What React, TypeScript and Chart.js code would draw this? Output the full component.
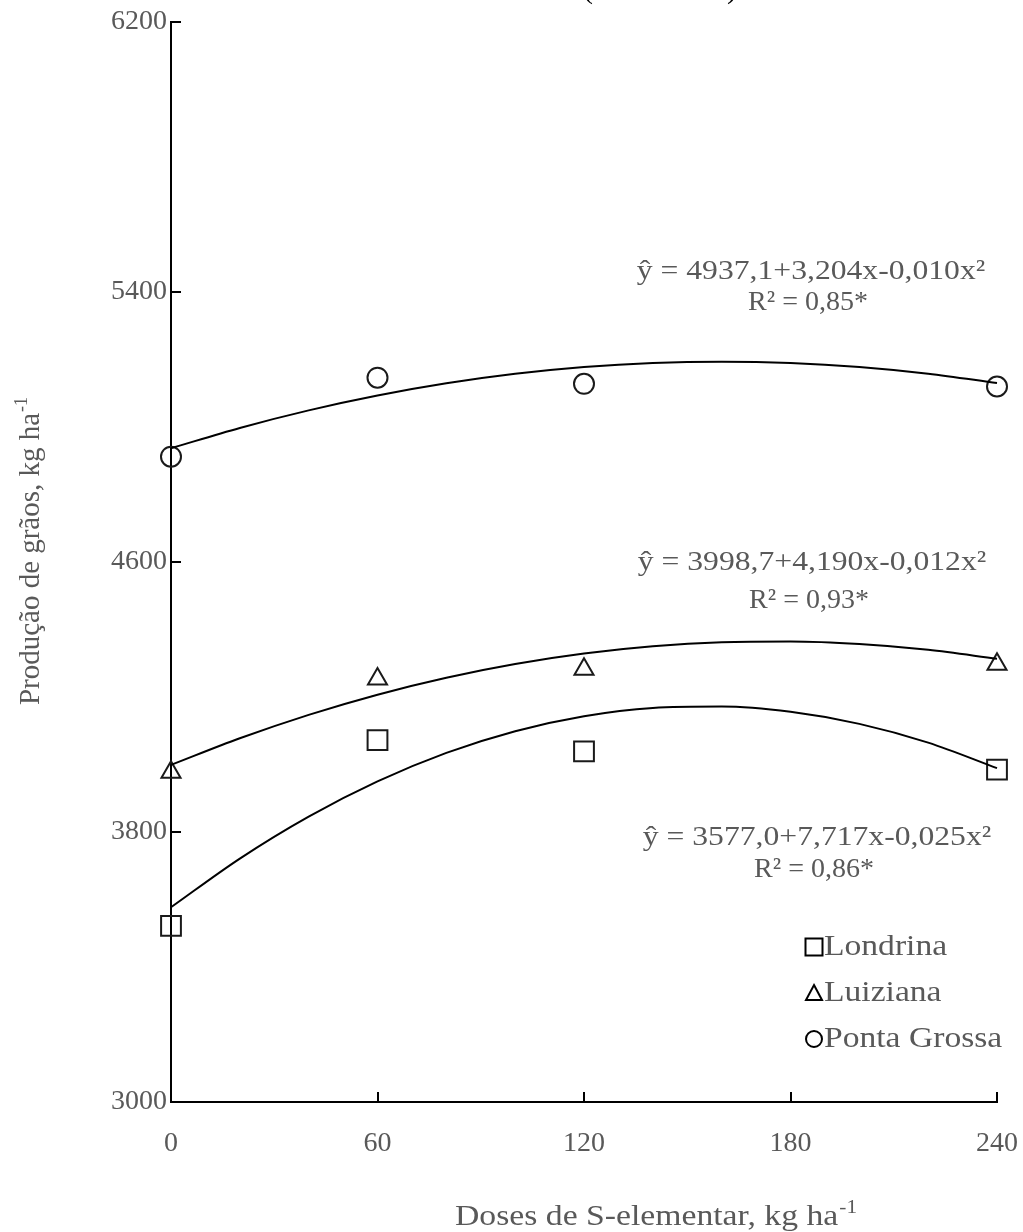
import React, { useEffect, useRef } from "react";
import { Chart, registerables } from "chart.js";

Chart.register(...registerables);

// ---- data ----
const doses = [0, 60, 120, 240];
const londrina = [3522, 4072, 4039, 3985];
const luiziana = [3977, 4253, 4282, 4297];
const pontaGrossa = [4912, 5146, 5128, 5120];

const fitDoses = [0, 20, 40, 60, 80, 100, 120, 140, 160, 180, 200, 220, 240];
const londrinaFit = [3577.0, 3721.3, 3845.7, 3950.0, 4034.4, 4098.7, 4143.0, 4167.4, 4171.7, 4156.1, 4120.4, 4064.7, 3989.1];
const luizianaFit = [3998.7, 4077.7, 4147.1, 4206.9, 4257.1, 4297.7, 4328.7, 4350.1, 4361.9, 4364.1, 4356.7, 4339.7, 4313.1];
const pontaGrossaFit = [4937.1, 4997.2, 5049.3, 5093.3, 5129.4, 5157.5, 5177.6, 5189.7, 5193.7, 5189.8, 5177.9, 5158.0, 5130.1];

const seriesLabels = ["Londrina", "Luiziana", "Ponta Grossa"];
const equations = ["ŷ = 3577,0+7,717x-0,025x²", "ŷ = 3998,7+4,190x-0,012x²", "ŷ = 4937,1+3,204x-0,010x²"];
const r2Labels = ["R² = 0,86*", "R² = 0,93*", "R² = 0,85*"];

const xTitleMain = "Doses de S-elementar, kg ha";
const yTitleMain = "Produção de grãos, kg ha";
const titleSup = "-1";

const FONT = "'Liberation Serif', 'Times New Roman', serif";
const TEXT = "#595959";
const INK = "#1a1a1a";

const pointStyles = ["rect", "triangle", "circle"] as const;
const pointRadii = [14, 11, 10];

const toXY = (xs: number[], ys: number[]) => xs.map((x, i) => ({ x, y: ys[i] }));

const eqPos = [
  { x: 817, y: 838, ry: 870 },
  { x: 812, y: 563, ry: 601 },
  { x: 811, y: 272, ry: 303 },
];

function drawStretched(ctx: CanvasRenderingContext2D, text: string, x: number, y: number, sx: number, align: "left" | "center") {
  const w = ctx.measureText(text).width * sx;
  const left = align === "center" ? x - w / 2 : x;
  ctx.save();
  ctx.translate(left, y);
  ctx.scale(sx, 1);
  ctx.textAlign = "left";
  ctx.fillText(text, 0, 0);
  ctx.restore();
}

function drawTitle(ctx: CanvasRenderingContext2D, main: string, sup: string, size: number, targetLen: number) {
  ctx.font = `${size}px ${FONT}`;
  const mw = ctx.measureText(main).width;
  ctx.font = `${Math.round(size * 0.62)}px ${FONT}`;
  const sw = ctx.measureText(sup).width;
  const k = targetLen / (mw + sw);
  ctx.save();
  ctx.scale(k, 1);
  ctx.textAlign = "left";
  ctx.textBaseline = "alphabetic";
  ctx.font = `${size}px ${FONT}`;
  ctx.fillText(main, 0, 0);
  ctx.font = `${Math.round(size * 0.62)}px ${FONT}`;
  ctx.fillText(sup, mw + 1, -size * 0.4);
  ctx.restore();
}

const tickMarks = {
  id: "tickMarks",
  afterDatasetsDraw(chart: any) {
    const { ctx, chartArea, scales } = chart;
    ctx.save();
    ctx.strokeStyle = "#000";
    ctx.lineWidth = 2;
    scales.y.ticks.forEach((t: any) => {
      const py = Math.round(scales.y.getPixelForValue(t.value));
      ctx.beginPath();
      ctx.moveTo(chartArea.left, py);
      ctx.lineTo(chartArea.left + 10, py);
      ctx.stroke();
    });
    scales.x.ticks.forEach((t: any) => {
      const px = Math.round(scales.x.getPixelForValue(t.value));
      ctx.beginPath();
      ctx.moveTo(px, chartArea.bottom);
      ctx.lineTo(px, chartArea.bottom - 10);
      ctx.stroke();
    });
    ctx.restore();
  },
};

const annotations = {
  id: "annotations",
  afterDraw(chart: any) {
    const { ctx } = chart;
    ctx.save();
    ctx.fillStyle = TEXT;
    ctx.textBaseline = "middle";
    equations.forEach((eq, i) => {
      ctx.font = `28px ${FONT}`;
      drawStretched(ctx, eq, eqPos[i].x, eqPos[i].y, 1.13, "center");
      drawStretched(ctx, r2Labels[i], eqPos[i].x - 3, eqPos[i].ry, 1.0, "center");
    });
    // axis titles
    ctx.save();
    ctx.translate(455, 1225);
    drawTitle(ctx, xTitleMain, titleSup, 30, 401);
    ctx.restore();
    ctx.save();
    ctx.translate(39, 705);
    ctx.rotate(-Math.PI / 2);
    drawTitle(ctx, yTitleMain, titleSup, 29, 307);
    ctx.restore();
    // cut-off title (only the parentheses tails are visible)
    ctx.fillStyle = "#000";
    ctx.font = `30px ${FONT}`;
    ctx.textAlign = "center";
    ctx.textBaseline = "alphabetic";
    ctx.fillText("(", 588, -2);
    ctx.fillText(")", 732, -2);
    ctx.restore();
  },
};

const customLegend = {
  id: "customLegend",
  afterDraw(chart: any) {
    const { ctx } = chart;
    const ys = [947, 993, 1039];
    ctx.save();
    seriesLabels.forEach((label, i) => {
      const cx = 814;
      const cy = ys[i];
      ctx.strokeStyle = "#000";
      ctx.lineWidth = 2;
      ctx.beginPath();
      if (i === 0) {
        ctx.rect(cx - 8.5, cy - 8.5, 17, 17);
      } else if (i === 1) {
        ctx.moveTo(cx, cy - 8);
        ctx.lineTo(cx + 8, cy + 7);
        ctx.lineTo(cx - 8, cy + 7);
        ctx.closePath();
      } else {
        ctx.arc(cx, cy, 8, 0, Math.PI * 2);
      }
      ctx.stroke();
      ctx.fillStyle = TEXT;
      ctx.font = `30px ${FONT}`;
      ctx.textBaseline = "middle";
      drawStretched(ctx, label, cx + 10, cy, 1.12, "left");
    });
    ctx.restore();
  },
};

export default function App() {
  const ref = useRef<HTMLCanvasElement | null>(null);

  useEffect(() => {
    if (!ref.current) return;
    const pointSets = [londrina, luiziana, pontaGrossa];
    const fitSets = [londrinaFit, luizianaFit, pontaGrossaFit];

    const datasets: any[] = [];
    fitSets.forEach((fit, i) => {
      datasets.push({
        label: seriesLabels[i] + " ajuste",
        data: toXY(fitDoses, fit),
        showLine: true,
        borderColor: "#000",
        borderWidth: 2,
        pointRadius: 0,
        cubicInterpolationMode: "monotone",
        fill: false,
        clip: false,
      });
    });
    pointSets.forEach((vals, i) => {
      datasets.push({
        label: seriesLabels[i],
        data: toXY(doses, vals),
        showLine: false,
        pointStyle: pointStyles[i],
        pointRadius: pointRadii[i],
        pointBorderWidth: 2,
        pointBorderColor: INK,
        pointBackgroundColor: "rgba(255,255,255,0)",
        clip: false,
      });
    });

    const chart = new Chart(ref.current, {
      type: "scatter",
      data: { datasets },
      plugins: [tickMarks, annotations, customLegend],
      options: {
        responsive: false,
        animation: false,
        devicePixelRatio: 1,
        layout: { padding: { top: 22, right: 26, left: 0, bottom: 0 } },
        plugins: {
          legend: { display: false },
          tooltip: { enabled: false },
        },
        scales: {
          x: {
            type: "linear",
            min: 0,
            max: 240,
            afterFit: (s: any) => {
              s.height = 130;
              s.paddingLeft = 0;
              s.paddingRight = 0;
            },
            ticks: {
              stepSize: 60,
              padding: 25,
              maxRotation: 0,
              color: TEXT,
              font: { family: FONT, size: 28 },
              callback: (v: any) => String(v),
            },
            grid: { display: false, drawTicks: false },
            border: { display: true, color: "#000", width: 2 },
          },
          y: {
            type: "linear",
            min: 3000,
            max: 6200,
            afterFit: (s: any) => {
              s.width = 171;
              s.paddingTop = 0;
              s.paddingBottom = 0;
            },
            ticks: {
              stepSize: 800,
              padding: 4,
              color: TEXT,
              font: { family: FONT, size: 28 },
              callback: (v: any) => String(v),
            },
            grid: { display: false, drawTicks: false },
            border: { display: true, color: "#000", width: 2 },
          },
        },
      },
    });
    return () => chart.destroy();
  }, []);

  return (
    <div style={{ position: "absolute", left: 0, top: 0, width: 1023, height: 1232, background: "#fff" }}>
      <canvas ref={ref} width={1023} height={1232} style={{ display: "block" }} />
    </div>
  );
}
